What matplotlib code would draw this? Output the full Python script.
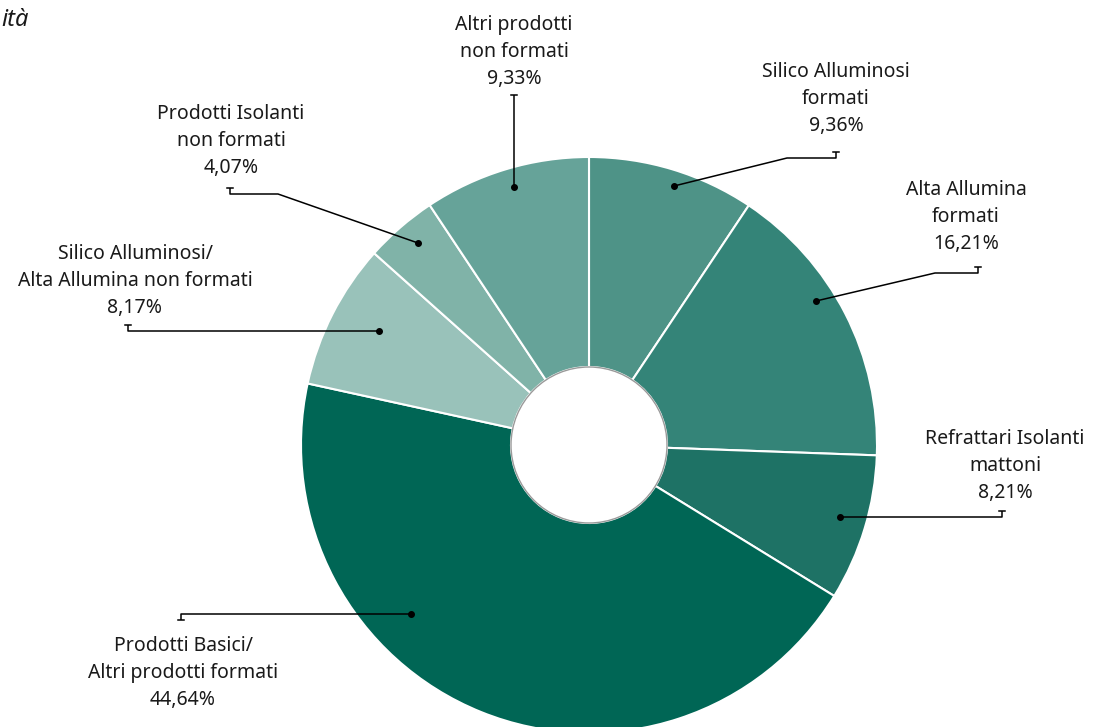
import matplotlib.pyplot as plt
from matplotlib.patches import Circle

# Data (clockwise from 12 o'clock)
labels = [
    "Silico Alluminosi\nformati",
    "Alta Allumina\nformati",
    "Refrattari Isolanti\nmattoni",
    "Prodotti Basici/\nAltri prodotti formati",
    "Silico Alluminosi/\nAlta Allumina non formati",
    "Prodotti Isolanti\nnon formati",
    "Altri prodotti\nnon formati",
]
shares = [9.36, 16.21, 8.21, 44.64, 8.17, 4.07, 9.33]
colors = ["#4E9387", "#348478", "#1E7265", "#006655", "#99C2BA", "#80B3A8", "#66A399"]

# Leader layout in pixel coordinates (x, y from the top-left corner)
# dot -> (elbow) -> end, cap direction, label centre x, middle label line y
leaders = [
    dict(path=[(674, 186), (787, 158), (836, 158)], cap=-1, tx=836, ty=99),
    dict(path=[(816, 301), (935, 273), (978, 273)], cap=-1, tx=966, ty=217),
    dict(path=[(840, 517), (1002, 517)], cap=-1, tx=1005, ty=466),
    dict(path=[(411, 614), (181, 614)], cap=1, tx=183, ty=673),
    dict(path=[(379, 331), (128, 331)], cap=-1, tx=135, ty=281),
    dict(path=[(418, 243), (278, 194), (230, 194)], cap=-1, tx=231, ty=141),
    dict(path=[(514, 187), (514, 101)], cap=-1, tx=514, ty=52),
]

W, H = 1093, 727
CX, CY, R, R_IN = 589, 445, 288, 78

plt.rcParams['font.family'] = ['Noto Sans', 'DejaVu Sans']

fig = plt.figure(figsize=(W / 100, H / 100), dpi=100)
ax = fig.add_axes([0, 0, 1, 1])

# y axis is inverted (pixel coords), so start at -90 and go "counterclockwise"
# in data space to get clockwise-from-top on screen
ax.pie(shares, colors=colors, startangle=-90, counterclock=True,
       center=(CX, CY), radius=R,
       wedgeprops=dict(width=R - R_IN, edgecolor="white", linewidth=1.5))
ax.add_patch(Circle((CX, CY), R_IN, facecolor="white", edgecolor="#9a9a9a",
                    linewidth=1.0, zorder=5))

for lab, val, ld in zip(labels, shares, leaders):
    pts = ld["path"]
    xs = [p[0] for p in pts]
    ys = [p[1] for p in pts]
    ex, ey = pts[-1]
    cap_y = ey + 6 * ld["cap"]
    xs += [ex]
    ys += [cap_y]
    ax.plot(xs, ys, color="black", lw=1.1, zorder=6, solid_capstyle="butt")
    ax.plot([ex - 3, ex + 3], [cap_y, cap_y], color="black", lw=1.1, zorder=6)
    ax.plot(pts[0][0], pts[0][1], "o", color="black", ms=4, zorder=7)
    txt = lab + "\n" + f"{val:.2f}".replace(".", ",") + "%"
    ax.text(ld["tx"], ld["ty"], txt, ha="center", va="center",
            fontsize=14, linespacing=1.45, color="#1a1a1a")

# fragment of a title that sits outside the crop in the original
ax.text(1, 20, "ità", ha="left", va="center", fontsize=17,
        style="italic", color="#1a1a1a")

ax.set_xlim(0, W)
ax.set_ylim(H, 0)
ax.set_aspect("equal")
ax.axis("off")

fig.savefig("out.png", dpi=100)
